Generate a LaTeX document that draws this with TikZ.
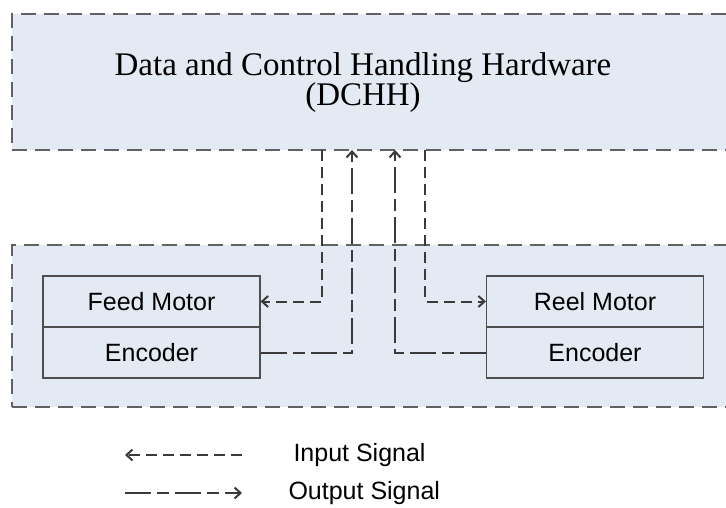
\documentclass[tikz,border=0pt]{standalone}
\usepackage{fontspec}
\setmainfont{Liberation Serif}
\setsansfont{Liberation Sans}
\usetikzlibrary{arrows.meta}
\definecolor{panelblue}{RGB}{228,234,244}
\definecolor{linegray}{RGB}{58,58,58}
\begin{document}
\begin{tikzpicture}[x=1pt,y=-1pt,
    panel/.style={draw=linegray!80, fill=panelblue, dash pattern=on 15pt off 8pt, line width=1.3pt, inner sep=0pt},
    title/.style={font=\fontsize{33}{38}\selectfont, inner sep=0pt},
    unit/.style={draw=linegray!90, line width=1.2pt, minimum width=217pt, minimum height=51pt, inner sep=0pt, font=\sffamily\fontsize{25}{30}\selectfont},
    insig/.style={draw=linegray, line width=2pt, dash pattern=on 11pt off 6pt},
    outsig/.style={draw=linegray, line width=2pt, dash pattern=on 26pt off 6pt on 12pt off 6pt},
    tip/.style={-{Straight Barb[length=6pt,width=11pt]}}]
    \useasboundingbox[fill=white] (0,0) rectangle (726,508);
    % panels
    \node[panel, minimum width=726pt, minimum height=136pt] (dchh) at (375,82) {};
    \node[title] (dchhname) at (363,68) {Data and Control Handling Hardware};
    \node[title] (dchhshort) at (363,98) {(DCHH)};
    \node[panel, minimum width=726pt, minimum height=162pt] (drive) at (375,326) {};
    % motors and encoders
    \node[unit] (feedmotor) at (151.5,301.5) {Feed Motor};
    \node[unit] (feedenc) at (151.5,352.5) {Encoder};
    \node[unit] (reelmotor) at (595,301.5) {Reel Motor};
    \node[unit] (reelenc) at (595,352.5) {Encoder};
    % signal lines
    \coordinate (feedin) at (322,150);
    \coordinate (feedout) at (352,150);
    \coordinate (reelout) at (395,150);
    \coordinate (reelin) at (425,150);
    \draw[insig, tip] (feedin) |- (feedmotor.east);
    \draw[outsig, tip] (feedenc.east) -| (feedout);
    \draw[outsig, tip] (reelenc.west) -| (reelout);
    \draw[insig, tip] (reelin) |- (reelmotor.west);
    % legend
    \coordinate (inA) at (125,455);
    \coordinate (inB) at (242,455);
    \coordinate (outA) at (125,493);
    \coordinate (outB) at (242,493);
    \draw[insig, tip] (inB) -- (inA);
    \draw[outsig, tip] (outA) -- (outB);
    \node[anchor=west, font=\sffamily\fontsize{25}{30}\selectfont] (inlabel) at (290,455) {Input Signal};
    \node[anchor=west, font=\sffamily\fontsize{25}{30}\selectfont] (outlabel) at (285,493) {Output Signal};
\end{tikzpicture}
\end{document}
